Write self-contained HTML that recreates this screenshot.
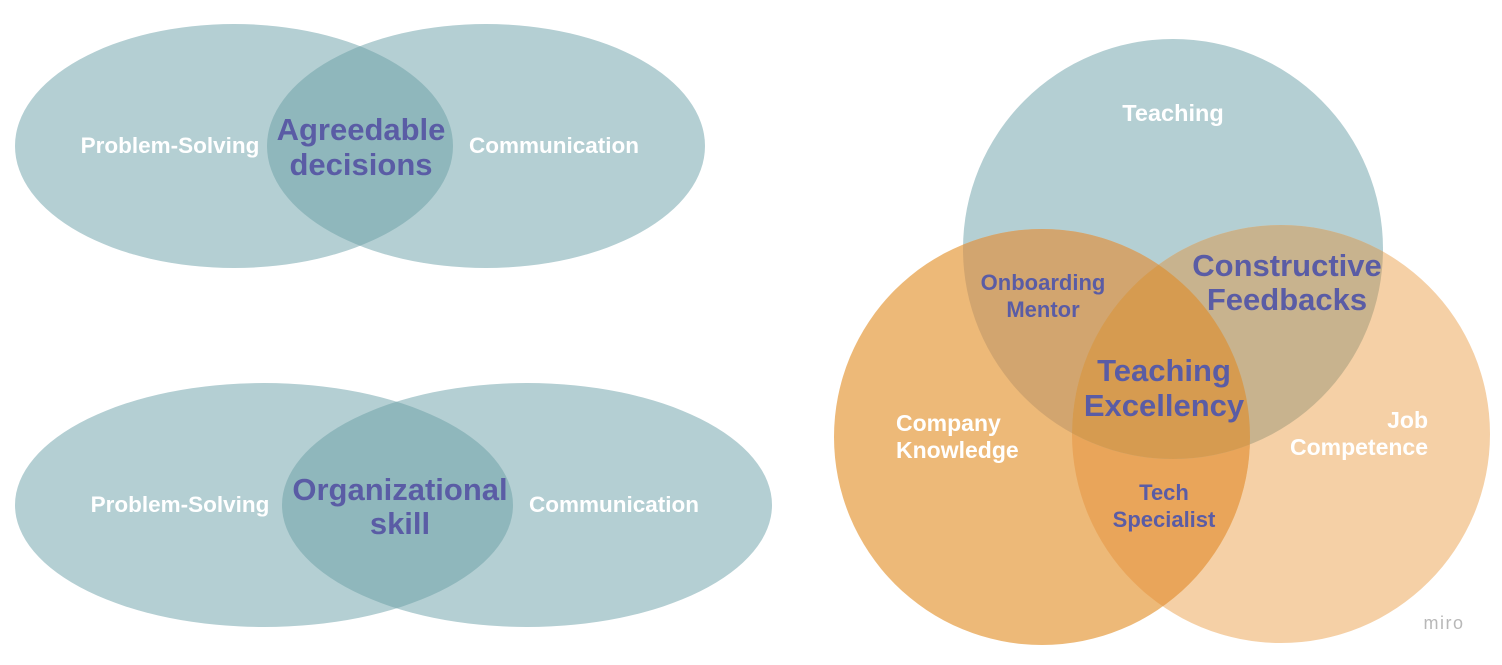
<!DOCTYPE html>
<html><head><meta charset="utf-8"><style>
body{margin:0;background:#fff;}
svg{display:block;font-family:"Liberation Sans",sans-serif;font-weight:bold;}
</style></head><body>
<svg width="1502" height="665" viewBox="0 0 1502 665">
<defs>
<clipPath id="cA1"><ellipse cx="234" cy="146" rx="219" ry="122"/></clipPath>
<clipPath id="cB1"><ellipse cx="264" cy="505" rx="249" ry="122"/></clipPath>
<clipPath id="cT"><circle cx="1173" cy="249" r="210"/></clipPath>
<clipPath id="cL"><circle cx="1042" cy="437" r="208"/></clipPath>
<clipPath id="cR"><circle cx="1281" cy="434" r="209"/></clipPath>
</defs>
<g>
<ellipse cx="234" cy="146" rx="219" ry="122" fill="#b4cfd3"/>
<ellipse cx="486" cy="146" rx="219" ry="122" fill="#b4cfd3"/>
<ellipse cx="486" cy="146" rx="219" ry="122" fill="#8fb7bc" clip-path="url(#cA1)"/>
<text x="170" y="153" fill="#fff" font-size="22.5" text-anchor="middle">Problem-Solving</text>
<text x="554" y="153" fill="#fff" font-size="22.5" text-anchor="middle">Communication</text>
<text x="361" y="140" fill="#5a5ca5" font-size="31" text-anchor="middle">Agreedable</text>
<text x="361" y="175" fill="#5a5ca5" font-size="31" text-anchor="middle">decisions</text>
</g>
<g>
<ellipse cx="264" cy="505" rx="249" ry="122" fill="#b4cfd3"/>
<ellipse cx="527" cy="505" rx="245" ry="122" fill="#b4cfd3"/>
<ellipse cx="527" cy="505" rx="245" ry="122" fill="#8fb7bc" clip-path="url(#cB1)"/>
<text x="180" y="512" fill="#fff" font-size="22.5" text-anchor="middle">Problem-Solving</text>
<text x="614" y="512" fill="#fff" font-size="22.5" text-anchor="middle">Communication</text>
<text x="400" y="500" fill="#5a5ca5" font-size="31" text-anchor="middle">Organizational</text>
<text x="400" y="534" fill="#5a5ca5" font-size="31" text-anchor="middle">skill</text>
</g>
<g>
<circle cx="1173" cy="249" r="210" fill="#b4cfd3"/>
<circle cx="1281" cy="434" r="209" fill="#f5d0a6"/>
<circle cx="1042" cy="437" r="208" fill="#edb978"/>
<circle cx="1281" cy="434" r="209" fill="#e9a55a" clip-path="url(#cL)"/>
<circle cx="1173" cy="249" r="210" fill="#d2a56f" clip-path="url(#cL)"/>
<circle cx="1173" cy="249" r="210" fill="#c8b38e" clip-path="url(#cR)"/>
<g clip-path="url(#cR)"><circle cx="1173" cy="249" r="210" fill="#d69b50" clip-path="url(#cL)"/></g>
<text x="1173" y="121" fill="#fff" font-size="23.5" text-anchor="middle">Teaching</text>
<text x="896" y="431" fill="#fff" font-size="23">Company</text>
<text x="896" y="458" fill="#fff" font-size="23">Knowledge</text>
<text x="1428" y="428" fill="#fff" font-size="23" text-anchor="end">Job</text>
<text x="1428" y="455" fill="#fff" font-size="23" text-anchor="end">Competence</text>
<text x="1043" y="290" fill="#5a5ca5" font-size="22" text-anchor="middle">Onboarding</text>
<text x="1043" y="317" fill="#5a5ca5" font-size="22" text-anchor="middle">Mentor</text>
<text x="1287" y="276" fill="#5a5ca5" font-size="31" text-anchor="middle">Constructive</text>
<text x="1287" y="310" fill="#5a5ca5" font-size="31" text-anchor="middle">Feedbacks</text>
<text x="1164" y="381" fill="#5a5ca5" font-size="31" text-anchor="middle">Teaching</text>
<text x="1164" y="416" fill="#5a5ca5" font-size="31" text-anchor="middle">Excellency</text>
<text x="1164" y="500" fill="#5a5ca5" font-size="22" text-anchor="middle">Tech</text>
<text x="1164" y="527" fill="#5a5ca5" font-size="22" text-anchor="middle">Specialist</text>
</g>
<text x="1444" y="629" fill="#b8b8b8" font-size="18" font-weight="normal" letter-spacing="1.5" text-anchor="middle">miro</text>
</svg>
</body></html>
